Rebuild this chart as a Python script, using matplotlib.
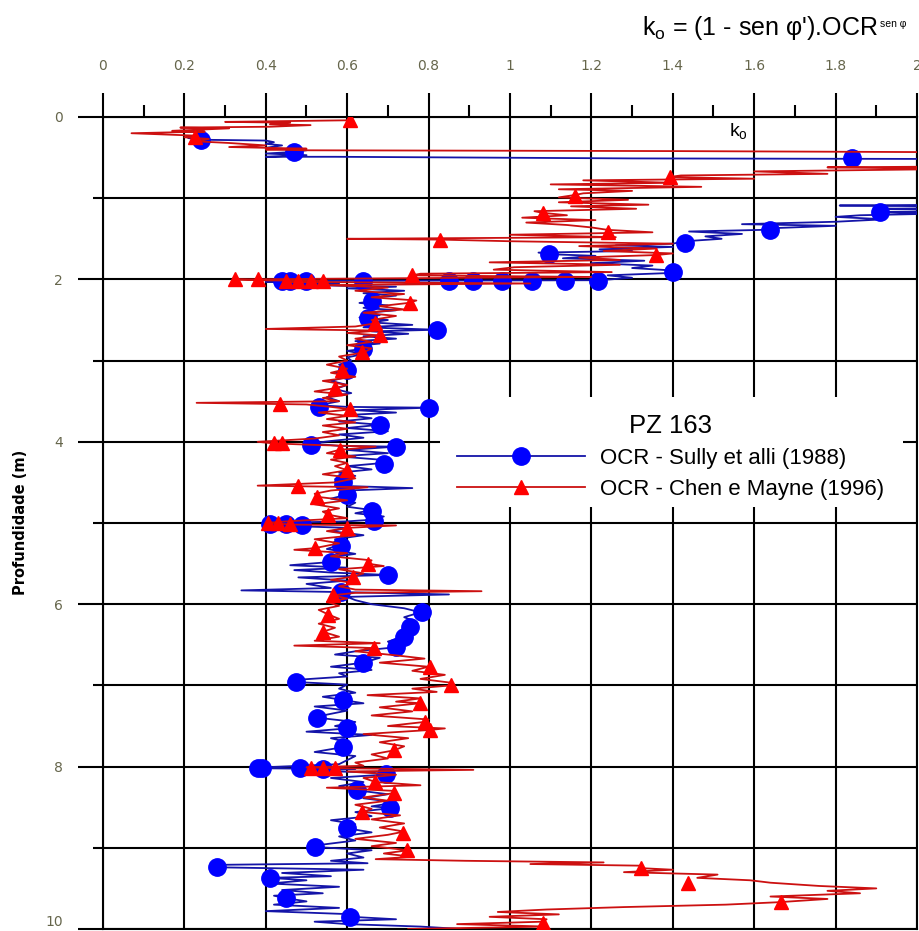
import matplotlib
matplotlib.use("Agg")
import matplotlib.pyplot as plt
from matplotlib.lines import Line2D
from matplotlib.patches import Rectangle
from matplotlib.ticker import FixedLocator, FixedFormatter

# ---- K0 profile, PZ 163: OCR after Sully et alli (1988) ----
sully_depth = [0.26, 0.28, 0.29, 0.31, 0.33, 0.35, 0.38, 0.41, 0.43, 0.45, 0.47, 0.49, 0.49, 0.51, 0.52,
               1.07, 1.09, 1.11, 1.13, 1.15, 1.17, 1.19, 1.21, 1.23, 1.26, 1.29, 1.32, 1.34, 1.37, 1.39,
               1.41, 1.44, 1.47, 1.50, 1.53, 1.56, 1.58, 1.60, 1.63, 1.65, 1.67, 1.69, 1.71, 1.74, 1.77,
               1.80, 1.83, 1.86, 1.89, 1.92, 1.95, 1.98, 2.01, 2.02, 2.03, 2.05, 2.07, 2.09, 2.11, 2.14,
               2.17, 2.20, 2.23, 2.26, 2.29, 2.32, 2.35, 2.38, 2.41, 2.44, 2.47, 2.50, 2.53, 2.56, 2.59,
               2.62, 2.64, 2.67, 2.70, 2.73, 2.76, 2.79, 2.82, 2.85, 2.88, 2.92, 2.96, 3.00, 3.05, 3.10,
               3.15, 3.20, 3.25, 3.30, 3.35, 3.40, 3.45, 3.50, 3.55, 3.57, 3.58, 3.61, 3.64, 3.67, 3.71,
               3.75, 3.79, 3.83, 3.87, 3.91, 3.95, 3.99, 4.02, 4.05, 4.06, 4.10, 4.14, 4.18, 4.22, 4.26,
               4.30, 4.34, 4.38, 4.42, 4.46, 4.50, 4.54, 4.57, 4.60, 4.65, 4.70, 4.75, 4.80, 4.84, 4.88,
               4.92, 4.96, 4.98, 5.00, 5.02, 5.04, 5.06, 5.10, 5.15, 5.20, 5.27, 5.32, 5.38, 5.43, 5.48,
               5.52, 5.55, 5.58, 5.61, 5.64, 5.67, 5.71, 5.75, 5.80, 5.83, 5.85, 5.88, 5.91, 5.95, 6.00,
               6.05, 6.10, 6.16, 6.22, 6.28, 6.34, 6.40, 6.46, 6.53, 6.58, 6.62, 6.66, 6.72, 6.77, 6.81,
               6.85, 6.89, 6.93, 6.96, 6.99, 7.04, 7.09, 7.14, 7.18, 7.22, 7.26, 7.31, 7.36, 7.40, 7.45,
               7.50, 7.53, 7.57, 7.61, 7.65, 7.70, 7.76, 7.82, 7.87, 7.92, 7.97, 8.01, 8.02, 8.03, 8.05,
               8.07, 8.10, 8.14, 8.19, 8.24, 8.29, 8.34, 8.39, 8.44, 8.49, 8.51, 8.56, 8.61, 8.66, 8.71,
               8.76, 8.81, 8.86, 8.91, 8.96, 8.99, 9.03, 9.07, 9.12, 9.16, 9.19, 9.21, 9.24, 9.27, 9.31,
               9.35, 9.37, 9.40, 9.44, 9.48, 9.52, 9.56, 9.59, 9.62, 9.66, 9.70, 9.74, 9.78, 9.82, 9.85,
               9.88, 9.91, 9.94, 9.97, 10.0]
sully_k0 = [0.21, 0.24, 0.40, 0.42, 0.40, 0.44, 0.40, 0.50, 0.47, 0.40, 0.50, 0.40, 0.57, 1.30, 2.40,
            2.40, 1.81, 2.30, 1.92, 2.20, 1.90, 2.05, 1.86, 1.80, 1.92, 1.80, 1.57, 1.80, 1.64, 1.62,
            1.44, 1.57, 1.48, 1.52, 1.43, 1.40, 1.26, 1.40, 1.22, 1.30, 1.07, 1.10, 1.21, 1.13, 1.33,
            1.20, 1.35, 1.30, 1.40, 1.40, 1.24, 1.30, 1.22, 0.44, 0.40, 0.58, 0.50, 0.72, 0.60, 0.74,
            0.64, 0.72, 0.65, 0.68, 0.63, 0.70, 0.64, 0.72, 0.65, 0.68, 0.63, 0.70, 0.66, 0.76, 0.64,
            0.82, 0.66, 0.75, 0.64, 0.72, 0.62, 0.68, 0.62, 0.65, 0.60, 0.64, 0.60, 0.61, 0.58, 0.61,
            0.57, 0.60, 0.56, 0.60, 0.57, 0.61, 0.55, 0.58, 0.53, 0.60, 0.80, 0.62, 0.72, 0.60, 0.66,
            0.58, 0.68, 0.60, 0.70, 0.58, 0.64, 0.56, 0.51, 0.58, 0.72, 0.60, 0.70, 0.58, 0.68, 0.69,
            0.60, 0.66, 0.58, 0.62, 0.57, 0.59, 0.57, 0.76, 0.60, 0.60, 0.56, 0.62, 0.60, 0.66, 0.62,
            0.69, 0.66, 0.60, 0.40, 0.50, 0.48, 0.60, 0.56, 0.64, 0.57, 0.58, 0.55, 0.62, 0.55, 0.56,
            0.46, 0.60, 0.47, 0.56, 0.70, 0.48, 0.60, 0.50, 0.56, 0.34, 0.58, 0.85, 0.60, 0.62, 0.66,
            0.74, 0.78, 0.74, 0.77, 0.75, 0.73, 0.74, 0.70, 0.72, 0.62, 0.57, 0.68, 0.64, 0.56, 0.66,
            0.58, 0.60, 0.48, 0.48, 0.60, 0.58, 0.62, 0.54, 0.59, 0.64, 0.52, 0.60, 0.55, 0.53, 0.62,
            0.57, 0.60, 0.50, 0.66, 0.56, 0.60, 0.59, 0.52, 0.62, 0.60, 0.58, 0.39, 0.37, 0.62, 0.48,
            0.66, 0.69, 0.56, 0.64, 0.58, 0.62, 0.70, 0.64, 0.72, 0.66, 0.71, 0.62, 0.66, 0.56, 0.62,
            0.60, 0.66, 0.58, 0.62, 0.54, 0.52, 0.66, 0.60, 0.64, 0.56, 0.65, 0.28, 0.28, 0.64, 0.44,
            0.56, 0.41, 0.50, 0.41, 0.58, 0.44, 0.54, 0.42, 0.45, 0.50, 0.42, 0.58, 0.40, 0.62, 0.61,
            0.72, 0.52, 0.60, 0.78, 0.88]

sully_mark_depth = [0.28, 0.43, 0.505, 1.17, 1.39, 1.55, 1.69, 1.91, 2.02, 2.02, 2.02, 2.02, 2.02, 2.02,
                    2.02, 2.02, 2.02, 2.02, 2.27, 2.48, 2.62, 2.86, 3.12, 3.57, 3.58, 3.79, 4.04, 4.06,
                    4.27, 4.50, 4.66, 4.85, 4.97, 5.01, 5.01, 5.03, 5.28, 5.48, 5.64, 5.85, 6.10, 6.28,
                    6.40, 6.53, 6.73, 6.96, 7.18, 7.40, 7.53, 7.76, 8.02, 8.02, 8.02, 8.03, 8.09, 8.29,
                    8.51, 8.75, 8.99, 9.24, 9.37, 9.62, 9.85]
sully_mark_k0 = [0.24, 0.47, 1.84, 1.91, 1.64, 1.43, 1.095, 1.40, 1.215, 1.135, 1.055, 0.98, 0.91, 0.85,
                 0.64, 0.50, 0.46, 0.44, 0.66, 0.65, 0.82, 0.64, 0.60, 0.53, 0.80, 0.68, 0.51, 0.72,
                 0.69, 0.59, 0.60, 0.66, 0.665, 0.41, 0.45, 0.49, 0.585, 0.56, 0.70, 0.585, 0.785, 0.755,
                 0.74, 0.72, 0.64, 0.475, 0.59, 0.525, 0.60, 0.59, 0.38, 0.39, 0.485, 0.54, 0.695, 0.625,
                 0.705, 0.60, 0.52, 0.28, 0.41, 0.45, 0.607]

# ---- K0 profile, PZ 163: OCR after Chen e Mayne (1996) ----
chen_depth = [0.04, 0.05, 0.06, 0.07, 0.09, 0.10, 0.12, 0.13, 0.14, 0.17, 0.18, 0.20, 0.23, 0.25, 0.27,
              0.30, 0.32, 0.35, 0.37, 0.39, 0.40, 0.41, 0.42, 0.44, 0.60, 0.62, 0.64, 0.67, 0.70, 0.72,
              0.74, 0.76, 0.78, 0.81, 0.83, 0.86, 0.89, 0.91, 0.94, 0.96, 0.99, 1.02, 1.05, 1.08, 1.10,
              1.13, 1.16, 1.18, 1.21, 1.24, 1.27, 1.30, 1.33, 1.36, 1.39, 1.42, 1.45, 1.48, 1.50, 1.51,
              1.53, 1.56, 1.59, 1.62, 1.65, 1.68, 1.70, 1.73, 1.76, 1.79, 1.82, 1.85, 1.88, 1.91, 1.93,
              1.95, 1.97, 1.99, 2.00, 2.01, 2.02, 2.03, 2.05, 2.07, 2.10, 2.14, 2.18, 2.22, 2.26, 2.29,
              2.33, 2.37, 2.41, 2.45, 2.50, 2.54, 2.58, 2.61, 2.63, 2.66, 2.69, 2.73, 2.77, 2.81, 2.85,
              2.90, 2.95, 3.00, 3.05, 3.10, 3.15, 3.20, 3.25, 3.30, 3.34, 3.38, 3.42, 3.46, 3.50, 3.52,
              3.54, 3.57, 3.60, 3.64, 3.68, 3.72, 3.76, 3.80, 3.84, 3.88, 3.92, 3.96, 4.00, 4.02, 4.04,
              4.06, 4.10, 4.14, 4.18, 4.22, 4.26, 4.30, 4.35, 4.40, 4.45, 4.50, 4.54, 4.56, 4.60, 4.64,
              4.68, 4.72, 4.77, 4.82, 4.86, 4.90, 4.94, 4.98, 5.00, 5.02, 5.03, 5.06, 5.10, 5.15, 5.20,
              5.25, 5.31, 5.33, 5.37, 5.41, 5.46, 5.50, 5.53, 5.57, 5.62, 5.66, 5.70, 5.74, 5.78, 5.82,
              5.84, 5.86, 5.89, 5.93, 5.97, 6.02, 6.07, 6.13, 6.18, 6.24, 6.29, 6.34, 6.40, 6.45, 6.48,
              6.51, 6.54, 6.58, 6.63, 6.67, 6.72, 6.77, 6.82, 6.87, 6.92, 6.97, 7.00, 7.04, 7.08, 7.12,
              7.16, 7.20, 7.22, 7.27, 7.32, 7.37, 7.42, 7.45, 7.50, 7.53, 7.55, 7.60, 7.65, 7.70, 7.75,
              7.80, 7.85, 7.90, 7.95, 7.99, 8.01, 8.02, 8.04, 8.06, 8.10, 8.14, 8.19, 8.23, 8.26, 8.30,
              8.33, 8.38, 8.42, 8.47, 8.52, 8.56, 8.60, 8.65, 8.70, 8.75, 8.80, 8.84, 8.89, 8.94, 8.98,
              9.03, 9.07, 9.11, 9.14, 9.16, 9.18, 9.20, 9.22, 9.25, 9.27, 9.30, 9.33, 9.37, 9.40, 9.43,
              9.47, 9.50, 9.53, 9.56, 9.60, 9.63, 9.67, 9.70, 9.73, 9.76, 9.79, 9.82, 9.85, 9.88, 9.91,
              9.94, 9.97, 10.0]
chen_k0 = [0.61, 0.45, 0.30, 0.46, 0.41, 0.51, 0.41, 0.19, 0.31, 0.17, 0.25, 0.07, 0.23, 0.20, 0.26,
           0.23, 0.31, 0.40, 0.31, 0.50, 0.40, 0.50, 1.42, 2.40, 2.40, 1.78, 2.10, 1.60, 1.78, 1.42,
           1.39, 1.60, 1.18, 1.40, 1.10, 1.47, 1.12, 1.30, 1.18, 1.16, 1.12, 1.29, 1.12, 1.34, 1.15,
           1.31, 1.06, 1.08, 1.14, 1.03, 1.21, 1.04, 1.14, 1.20, 1.24, 1.35, 1.00, 1.26, 0.60, 0.83,
           1.00, 1.40, 1.17, 1.36, 1.23, 1.40, 1.36, 1.17, 1.27, 0.95, 1.27, 1.01, 0.96, 1.25, 0.78,
           0.76, 1.20, 0.60, 0.32, 0.38, 0.55, 0.45, 1.05, 0.55, 0.70, 0.62, 0.74, 0.66, 0.77, 0.75,
           0.68, 0.74, 0.64, 0.72, 0.66, 0.67, 0.62, 0.40, 0.68, 0.60, 0.68, 0.62, 0.66, 0.60, 0.66,
           0.64, 0.58, 0.60, 0.55, 0.60, 0.56, 0.62, 0.54, 0.60, 0.57, 0.52, 0.60, 0.54, 0.58, 0.23,
           0.50, 0.56, 0.61, 0.53, 0.60, 0.55, 0.62, 0.54, 0.60, 0.54, 0.58, 0.52, 0.38, 0.42, 0.53,
           0.67, 0.58, 0.55, 0.62, 0.56, 0.60, 0.57, 0.60, 0.54, 0.62, 0.57, 0.38, 0.65, 0.56, 0.52,
           0.53, 0.60, 0.52, 0.58, 0.54, 0.555, 0.60, 0.45, 0.40, 0.47, 0.72, 0.60, 0.55, 0.62, 0.52,
           0.58, 0.52, 0.47, 0.60, 0.56, 0.66, 0.65, 0.69, 0.58, 0.64, 0.615, 0.56, 0.62, 0.58, 0.62,
           0.93, 0.62, 0.565, 0.60, 0.55, 0.58, 0.53, 0.555, 0.58, 0.53, 0.57, 0.54, 0.58, 0.52, 0.68,
           0.47, 0.665, 0.62, 0.72, 0.79, 0.68, 0.80, 0.76, 0.84, 0.78, 0.86, 0.855, 0.76, 0.82, 0.65,
           0.78, 0.72, 0.78, 0.68, 0.76, 0.66, 0.80, 0.79, 0.70, 0.84, 0.80, 0.64, 0.75, 0.68, 0.74,
           0.715, 0.66, 0.70, 0.62, 0.64, 0.50, 0.58, 0.91, 0.60, 0.72, 0.64, 0.67, 0.78, 0.55, 0.72,
           0.71, 0.64, 0.70, 0.62, 0.66, 0.64, 0.73, 0.66, 0.74, 0.68, 0.74, 0.70, 0.62, 0.72, 0.66,
           0.75, 0.69, 0.76, 0.67, 0.89, 1.23, 1.05, 1.32, 1.32, 1.40, 1.28, 1.51, 1.46, 1.59, 1.64,
           1.76, 1.90, 1.78, 1.86, 1.64, 1.78, 1.66, 1.53, 1.28, 1.09, 0.97, 1.12, 0.95, 1.09, 1.08,
           0.87, 1.09, 0.75]

chen_mark_depth = [0.04, 0.25, 0.74, 0.97, 1.18, 1.42, 1.51, 1.70, 1.95, 2.00, 2.00, 2.02, 2.02, 2.02,
                   2.02, 2.29, 2.54, 2.69, 2.90, 3.12, 3.34, 3.53, 3.60, 4.02, 4.02, 4.10, 4.35, 4.55,
                   4.68, 4.90, 5.00, 5.00, 5.01, 5.06, 5.31, 5.50, 5.66, 5.89, 6.13, 6.34, 6.54, 6.77,
                   7.00, 7.22, 7.45, 7.55, 7.80, 8.02, 8.02, 8.02, 8.19, 8.33, 8.56, 8.82, 9.03, 9.25,
                   9.43, 9.67, 9.92]
chen_mark_k0 = [0.607, 0.226, 1.392, 1.16, 1.08, 1.242, 0.829, 1.358, 0.76, 0.325, 0.382, 0.45, 0.48, 0.51,
                0.54, 0.755, 0.669, 0.68, 0.637, 0.588, 0.571, 0.435, 0.607, 0.42, 0.44, 0.583, 0.60, 0.48,
                0.526, 0.554, 0.405, 0.43, 0.46, 0.60, 0.52, 0.65, 0.615, 0.566, 0.554, 0.541, 0.665, 0.804,
                0.854, 0.78, 0.792, 0.804, 0.716, 0.51, 0.54, 0.57, 0.669, 0.714, 0.637, 0.738, 0.748, 1.321,
                1.437, 1.665, 1.08]

# ---- axis ticks ----
x_major = [0, 0.2, 0.4, 0.6, 0.8, 1.0, 1.2, 1.4, 1.6, 1.8, 2.0]
x_labels = ["0", "0.2", "0.4", "0.6", "0.8", "1", "1.2", "1.4", "1.6", "1.8", "2"]
x_minor = [0.1, 0.3, 0.5, 0.7, 0.9, 1.1, 1.3, 1.5, 1.7, 1.9]
y_major = [0, 2, 4, 6, 8, 10]
y_labels = ["0", "2", "4", "6", "8", "10"]
y_minor = [1, 3, 5, 7, 9]

series_names = ["OCR - Sully et alli (1988)", "OCR - Chen e Mayne (1996)"]

plt.rcParams["font.family"] = ["Liberation Sans", "DejaVu Sans"]
plt.rcParams["mathtext.fontset"] = "custom"
plt.rcParams["mathtext.rm"] = "Liberation Sans"
plt.rcParams["mathtext.it"] = "Liberation Sans:italic"

W, H = 920, 931
fig = plt.figure(figsize=(W / 100, H / 100), dpi=100)
ax = fig.add_axes([103 / W, 1 - 929 / H, 814 / W, 812 / H])

ax.set_xlim(0, 2)
ax.set_ylim(10, 0)
ax.xaxis.tick_top()
ax.xaxis.set_major_locator(FixedLocator(x_major))
ax.xaxis.set_major_formatter(FixedFormatter(x_labels))
ax.xaxis.set_minor_locator(FixedLocator(x_minor))
ax.yaxis.set_major_locator(FixedLocator(y_major))
ax.yaxis.set_major_formatter(FixedFormatter(y_labels))
ax.yaxis.set_minor_locator(FixedLocator(y_minor))

tick_color = "#66664c"
ax.tick_params(axis="x", which="major", direction="out", length=17.5, width=1.5,
               pad=14, labelsize=10, labelcolor=tick_color, top=True, bottom=False)
ax.tick_params(axis="x", which="minor", direction="out", length=8.5, width=1.5,
               top=True, bottom=False)
ax.tick_params(axis="y", which="major", direction="out", length=18, width=1.5,
               pad=11, labelsize=10, labelcolor=tick_color)
ax.tick_params(axis="y", which="minor", direction="out", length=7.2, width=1.5)
for lab in ax.get_xticklabels() + ax.get_yticklabels():
    lab.set_family("DejaVu Sans")
# keep the bottom depth label inside the figure
ax.yaxis.get_major_ticks()[-1].label1.set_verticalalignment("bottom")

ax.grid(True, which="major", axis="x", color="black", lw=1.5)
ax.grid(True, which="both", axis="y", color="black", lw=1.5)
for sp in ax.spines.values():
    sp.set_linewidth(1.5)

# white panel behind the legend
ax.add_patch(Rectangle((0.829, 3.45), 1.137, 1.35, facecolor="white",
                       edgecolor="none", zorder=2))

blue_line, blue_mark = "#1414a8", "#0000ff"
red_line, red_mark = "#cc1010", "#ff0000"

ax.plot(sully_k0, sully_depth, color=blue_line, lw=1.3, zorder=3)
ax.plot(sully_mark_k0, sully_mark_depth, ls="none", marker="o", ms=12.5,
        color=blue_mark, zorder=3.5)
ax.plot(chen_k0, chen_depth, color=red_line, lw=1.3, zorder=4)
ax.plot(chen_mark_k0, chen_mark_depth, ls="none", marker="^", ms=10.5,
        color=red_mark, zorder=4.5)

handles = [Line2D([], [], color=blue_line, lw=1.3, marker="o", ms=12.5,
                  mfc=blue_mark, mec=blue_mark),
           Line2D([], [], color=red_line, lw=1.3, marker="^", ms=10.5,
                  mfc=red_mark, mec=red_mark)]
leg = ax.legend(handles, series_names, loc="upper left",
                bbox_to_anchor=((457 - 103) / 814, 1 - (414 - 117) / 812),
                frameon=False, fontsize=16, title="PZ 163",
                title_fontproperties={"size": 18.5}, handlelength=5.75,
                handletextpad=0.68, labelspacing=0.45, borderpad=0,
                borderaxespad=0, markerscale=1.0)
leg.set_zorder(5)

ax.text(1.538, 0.17, r"k$_{\mathrm{o}}$", fontsize=14, ha="left", va="center", zorder=6)
fig.text(878 / W, 1 - 28 / H, r"k$_{\mathrm{o}}$ = (1 - sen φ').OCR",
         fontsize=18, ha="right", va="center")
fig.text(880 / W, 1 - 24 / H, "sen φ", fontsize=7.5, ha="left", va="center")
fig.text(21 / W, 1 - 522 / H, "Profundidade (m)", rotation=90, fontsize=10.5,
         fontweight="bold", family="DejaVu Sans", ha="center", va="center")

fig.savefig("out.png", dpi=100)
